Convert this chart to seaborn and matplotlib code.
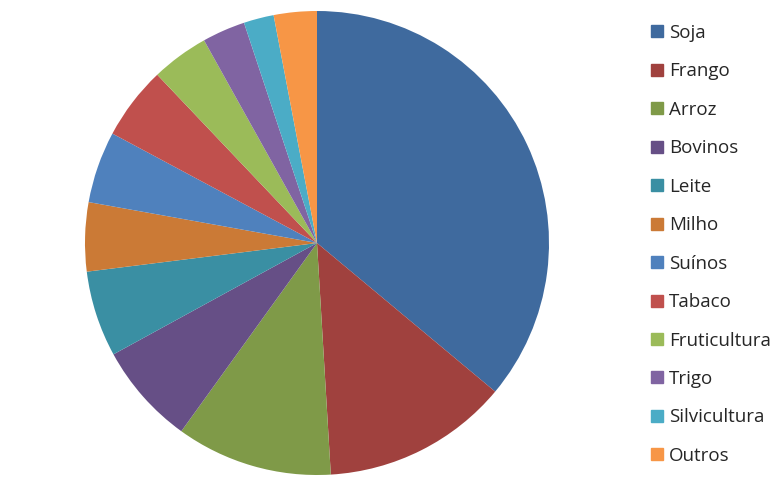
import matplotlib
matplotlib.use("Agg")
import matplotlib.pyplot as plt
import seaborn as sns
from matplotlib.lines import Line2D

categories = ["Soja", "Frango", "Arroz", "Bovinos", "Leite", "Milho",
              "Suínos", "Tabaco", "Fruticultura", "Trigo", "Silvicultura", "Outros"]
values = [36.1, 13.0, 10.9, 7.1, 6.0, 4.8, 5.0, 5.1, 4.0, 3.0, 2.1, 3.0]
colors = ["#3F6A9E", "#A0413E", "#7F9A48", "#664F86", "#3A8FA3", "#CB7A36",
          "#4F81BD", "#C0504D", "#9BBB59", "#8064A2", "#4BACC6", "#F79646"]

sns.set_theme(style="white")
plt.rcParams['font.family'] = ['Open Sans', 'DejaVu Sans']

fig = plt.figure(figsize=(7.8, 4.95), dpi=100)
ax = fig.add_axes([85/780, 20/495, 464/780, 464/495])
ax.pie(values, colors=colors, startangle=90, counterclock=False, radius=1,
       wedgeprops=dict(linewidth=0))
ax.set_xlim(-1, 1)
ax.set_ylim(-1, 1)
ax.set_aspect('equal')
ax.axis('off')

handles = [Line2D([0], [0], marker='s', linestyle='none', markersize=8.2,
                  markerfacecolor=c, markeredgecolor=c) for c in colors]
fig.legend(handles, categories, loc='upper left', bbox_to_anchor=(649/780, 1 - 24/495),
           frameon=False, fontsize=13.5, labelspacing=1.09, handletextpad=0.15,
           handlelength=0.9, borderpad=0, borderaxespad=0)

fig.savefig("out.png", dpi=100)
